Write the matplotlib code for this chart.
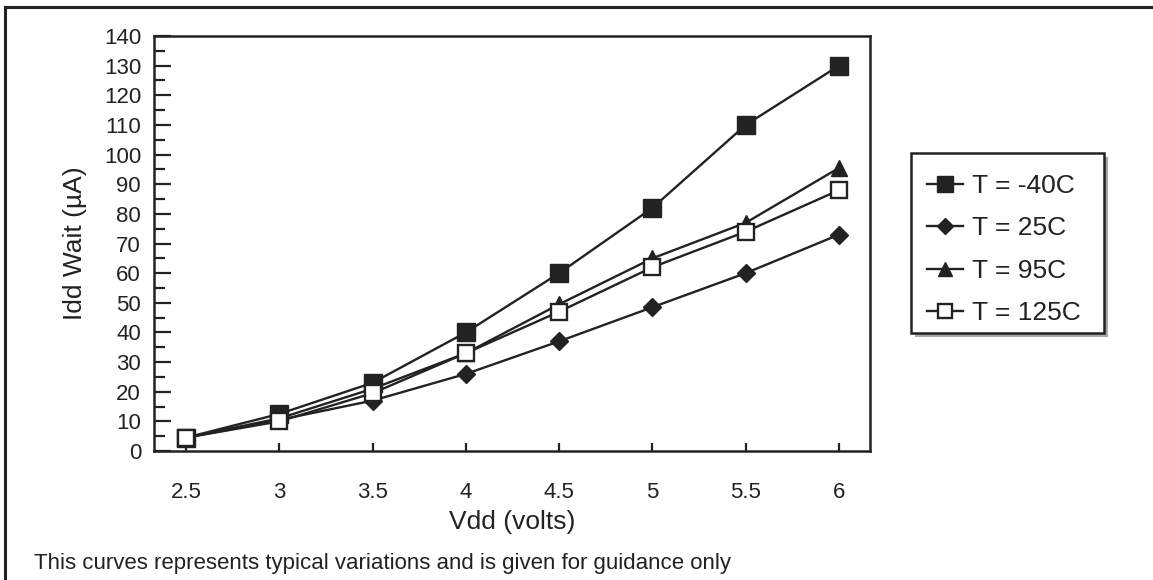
import matplotlib
matplotlib.use("Agg")
import matplotlib.pyplot as plt
from matplotlib.lines import Line2D
from matplotlib.patches import Rectangle

vdd = [2.5, 3, 3.5, 4, 4.5, 5, 5.5, 6]
idd_m40 = [4.5, 12.5, 23, 40, 60, 82, 110, 130]
idd_25 = [4.5, 10.5, 17, 26, 37, 48.5, 60, 73]
idd_95 = [4.5, 11, 21, 33, 49.5, 65, 77, 95.5]
idd_125 = [4.5, 10, 19.5, 33, 47, 62, 74, 88]
labels = ["T = -40C", "T = 25C", "T = 95C", "T = 125C"]
xticks = [2.5, 3, 3.5, 4, 4.5, 5, 5.5, 6]
xticklabels = ["2.5", "3", "3.5", "4", "4.5", "5", "5.5", "6"]
yticks = list(range(0, 141, 10))

plt.rcParams['font.family'] = ['Liberation Sans', 'DejaVu Sans']
C = '#222222'

W, H = 1153, 580
fig = plt.figure(figsize=(W / 100, H / 100), dpi=100)
ax = fig.add_axes([153.5 / W, 1 - 451 / H, (870 - 153.5) / W, (451 - 36) / H])

lw = 1.7
ax.plot(vdd, idd_m40, color=C, lw=lw, marker='s', ms=13, mfc=C, mec=C, label=labels[0], zorder=3)
ax.plot(vdd, idd_25, color=C, lw=lw, marker='D', ms=8.7, mfc=C, mec=C, label=labels[1], zorder=3)
ax.plot(vdd, idd_95, color=C, lw=lw, marker='^', ms=11.5, mfc=C, mec=C, label=labels[2], zorder=3)
ax.plot(vdd, idd_125, color=C, lw=lw, marker='s', ms=11, mfc='white', mec=C, mew=1.7, label=labels[3], zorder=3)

ax.set_xlim(2.326, 6.166)
ax.set_ylim(0, 140)
ax.set_xticks(xticks)
ax.set_xticklabels(xticklabels)
ax.set_yticks(yticks)
ax.set_yticks(list(range(5, 140, 10)), minor=True)
ax.tick_params(axis='both', which='both', direction='in', color=C, labelcolor=C, labelsize=16)
ax.tick_params(axis='y', which='major', length=12, width=1.6, pad=9)
ax.tick_params(axis='y', which='minor', length=8, width=1.6)
ax.tick_params(axis='x', which='major', length=6, width=1.6, pad=22)
for s in ax.spines.values():
    s.set_color(C)
    s.set_linewidth(1.8)

ax.set_xlabel("Vdd (volts)", fontsize=19, color=C, labelpad=5)
ax.set_ylabel("Idd Wait (\u00b5A)", fontsize=19, color=C, labelpad=12)

# legend box with shadow (drawn as figure patches), entries from the plotted lines
bx0, bx1, by0, by1 = 911, 1104, 153, 333
shadow = Rectangle(((bx0 + 4) / W, 1 - (by1 + 4) / H), (bx1 - bx0) / W, (by1 - by0) / H,
                   transform=fig.transFigure, facecolor='#a8a8a8', edgecolor='none', zorder=4)
fig.add_artist(shadow)
box = Rectangle((bx0 / W, 1 - by1 / H), (bx1 - bx0) / W, (by1 - by0) / H,
                transform=fig.transFigure, facecolor='white', edgecolor=C, lw=1.8, zorder=5)
fig.add_artist(box)
leg = fig.legend(loc='upper left', bbox_to_anchor=(927 / W, 1 - 174 / H), borderaxespad=0,
                 fontsize=19, frameon=False, handlelength=1.35, handletextpad=0.35,
                 labelspacing=0.7, borderpad=0, markerscale=0.9)
leg.set_zorder(6)
for t in leg.get_texts():
    t.set_color(C)

# outer frame (top and left)
fig.add_artist(Line2D([5 / W, 1], [1 - 7 / H, 1 - 7 / H], color=C, lw=2.2, transform=fig.transFigure))
fig.add_artist(Line2D([5 / W, 5 / W], [0, 1 - 7 / H], color=C, lw=2.2, transform=fig.transFigure))

fig.text(34 / W, 1 - 564 / H, "This curves represents typical variations and is given for guidance only",
         fontsize=16, color=C, ha='left', va='center')

fig.savefig("out.png", dpi=100)
